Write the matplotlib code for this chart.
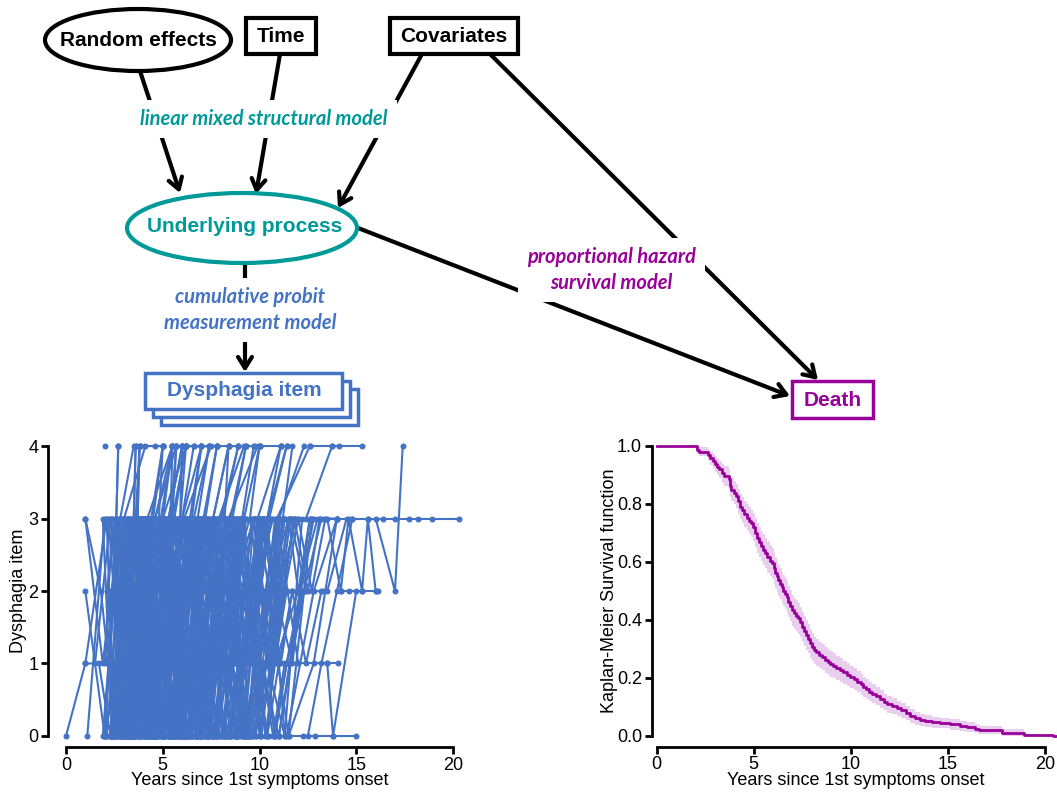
import numpy as np
import matplotlib
matplotlib.use("Agg")
import matplotlib.pyplot as plt
from matplotlib.patches import Ellipse, Rectangle

plt.rcParams['font.family'] = ['Liberation Sans', 'DejaVu Sans']

BLUE = "#4472C4"
TEAL = "#009999"
PURPLE = "#990099"
BAND = "#E9CEF0"

# individual dysphagia trajectories (years since onset, item score)
traj_early = [
    ([0.0, 1.0, 2.1, 3.0, 4.1], [0, 1, 3, 3, 4]),
    ([1.0, 1.9, 2.8, 3.5], [3, 1, 3, 4]),
    ([1.0, 2.0, 3.1, 4.0], [2, 0, 2, 3]),
    ([1.0, 1.5, 2.3, 3.2], [1, 1, 3, 3]),
    ([1.1, 2.0, 2.9], [0, 3, 3]),
    ([1.0, 1.8, 2.6, 3.4, 4.2], [3, 2, 0, 3, 3]),
    ([1.7, 2.3, 3.0, 3.8], [1, 0, 3, 3]),
    ([2.0], [4]),
    ([1.9, 2.2, 2.6, 2.7], [0, 1, 3, 4]),
    ([2.0, 2.5, 3.1, 3.6, 4.3], [0, 2, 0, 3, 3]),
    ([2.1, 2.8, 3.4, 4.0], [1, 3, 0, 2]),
    ([2.2, 2.9, 3.5, 3.6], [0, 0, 3, 4]),
    ([2.3, 3.0, 3.7, 3.8], [0, 2, 3, 4]),
    ([2.4, 3.2, 3.9, 4.5, 5.0], [1, 0, 3, 3, 4]),
    ([2.5, 3.1, 3.8, 4.4], [0, 3, 1, 3]),
    ([2.6, 3.4, 4.2, 5.0], [2, 0, 3, 0]),
    ([2.0, 2.7, 3.3, 4.1, 4.7], [0, 1, 2, 3, 3]),
    ([2.2, 3.0, 3.9, 4.6], [3, 0, 3, 2]),
    ([2.8, 3.5, 4.3, 5.2], [0, 2, 3, 3]),
    ([2.9, 3.6, 4.4, 5.1], [0, 3, 0, 3]),
    ([2.3, 2.8, 3.6, 4.2, 5.5], [1, 0, 2, 3, 4]),
    ([2.7, 3.3, 4.0, 4.8], [0, 1, 3, 1]),
    ([2.4, 3.5, 4.6, 5.7], [0, 0, 3, 4]),
    ([2.1, 2.6, 3.2, 4.1], [2, 3, 3, 3]),
    ([2.5, 2.9, 3.6, 4.4, 5.4], [3, 1, 3, 0, 3]),
    ([2.9, 3.7, 4.5, 5.3, 6.0], [1, 0, 2, 3, 4]),
    ([1.9, 2.4, 3.0, 3.5, 4.1], [3, 0, 2, 0, 3]),
    ([2.0, 2.4, 2.9, 3.4], [1, 3, 0, 3]),
    ([2.0, 2.6, 3.2, 3.7, 4.2], [0, 3, 1, 3, 0]),
    ([2.1, 2.5, 3.0, 3.6], [3, 0, 3, 1]),
    ([2.1, 2.7, 3.3, 3.9, 4.4], [0, 2, 0, 3, 2]),
    ([2.2, 2.6, 3.1, 3.7], [2, 0, 3, 3]),
    ([2.2, 2.8, 3.3, 3.8, 4.3], [1, 3, 0, 2, 3]),
    ([2.3, 2.7, 3.4, 4.0], [0, 3, 0, 3]),
    ([2.3, 2.9, 3.5, 4.1, 4.8], [3, 1, 3, 0, 3]),
    ([2.4, 2.8, 3.3, 3.9], [0, 2, 3, 0]),
    ([2.4, 3.0, 3.6, 4.2, 4.9], [2, 0, 3, 1, 3]),
    ([2.5, 3.0, 3.5, 4.0], [0, 3, 0, 2]),
    ([2.5, 3.2, 3.8, 4.5], [1, 0, 3, 3]),
    ([2.6, 3.1, 3.7, 4.3, 4.9], [3, 0, 2, 0, 3]),
    ([2.6, 3.3, 4.0, 4.6], [0, 1, 3, 0]),
    ([2.7, 3.2, 3.8, 4.4, 5.0], [0, 3, 0, 3, 1]),
    ([2.7, 3.4, 4.1, 4.7], [2, 0, 3, 2]),
    ([2.8, 3.3, 3.9, 4.6], [1, 3, 0, 3]),
    ([2.8, 3.5, 4.2, 4.8, 5.4], [0, 2, 0, 3, 3]),
    ([2.9, 3.4, 4.0, 4.7], [3, 0, 3, 0]),
    ([2.5, 3.0, 3.5, 4.0, 4.5], [0, 1, 2, 2, 3]),
    ([3.0, 3.5, 4.0, 4.6, 5.1], [1, 2, 1, 2, 3]),
    ([2.6, 2.7], [3, 4]),
    ([3.6, 3.8], [3, 4]),
]

traj_mid = [
    ([3.0, 3.6, 4.2, 4.9, 5.6], [0, 2, 0, 3, 3]),
    ([3.1, 3.8, 4.7, 5.5], [0, 3, 0, 3]),
    ([3.2, 4.0, 4.8, 5.5, 6.2], [1, 0, 3, 3, 4]),
    ([3.3, 4.1, 4.9, 5.9], [0, 2, 3, 2]),
    ([3.4, 4.2, 5.0, 5.8], [0, 0, 3, 0]),
    ([3.5, 4.3, 5.2, 6.0, 6.6], [2, 0, 2, 3, 4]),
    ([3.6, 4.4, 5.3, 6.1], [0, 3, 1, 3]),
    ([3.7, 4.5, 5.4, 6.3], [1, 0, 3, 3]),
    ([3.8, 4.6, 5.5, 6.5], [0, 2, 0, 3]),
    ([3.9, 4.8, 5.6, 6.4, 7.0], [0, 1, 3, 3, 4]),
    ([4.0, 4.7, 5.5, 6.4], [3, 0, 3, 2]),
    ([4.1, 4.9, 5.8, 6.7], [0, 3, 0, 3]),
    ([4.2, 5.0, 5.9, 6.8, 7.4], [0, 0, 2, 3, 4]),
    ([4.3, 5.1, 6.0, 6.9], [1, 3, 0, 3]),
    ([4.4, 5.2, 6.1, 7.0], [0, 2, 3, 0]),
    ([4.5, 5.4, 6.3, 7.1], [2, 0, 3, 3]),
    ([4.6, 5.5, 6.4, 7.2, 7.8], [0, 3, 1, 3, 4]),
    ([4.7, 5.6, 6.6, 7.5], [0, 0, 3, 1]),
    ([4.8, 5.7, 6.7, 7.6], [1, 3, 0, 3]),
    ([4.9, 5.8, 6.8, 7.8], [0, 1, 3, 3]),
    ([3.0, 3.9, 5.0, 6.2], [2, 3, 3, 4]),
    ([3.2, 3.5, 4.4, 5.0], [0, 3, 3, 4]),
    ([3.5, 3.6, 4.6], [3, 4, 4]),
    ([3.7, 3.8, 5.0], [3, 4, 4]),
    ([4.4, 4.9, 5.5], [3, 3, 4]),
    ([3.3, 4.0, 4.5, 5.1, 5.7], [1, 0, 3, 2, 4]),
    ([3.0, 3.5, 4.1, 4.8, 5.3], [0, 3, 1, 3, 0]),
    ([3.0, 3.7, 4.3, 5.0], [1, 0, 2, 3]),
    ([3.1, 3.6, 4.2, 4.9, 5.6], [2, 0, 3, 0, 3]),
    ([3.1, 3.8, 4.5, 5.2], [0, 3, 0, 2]),
    ([3.2, 3.7, 4.3, 5.0, 5.8], [3, 1, 3, 0, 3]),
    ([3.3, 3.9, 4.6, 5.3], [0, 2, 3, 1]),
    ([3.4, 4.0, 4.6, 5.2, 5.9], [1, 3, 0, 3, 2]),
    ([3.5, 4.1, 4.8, 5.5], [0, 0, 3, 0]),
    ([3.6, 4.2, 4.9, 5.6, 6.2], [3, 0, 2, 3, 0]),
    ([3.7, 4.3, 5.0, 5.8], [0, 3, 0, 3]),
    ([3.8, 4.4, 5.1, 5.9, 6.5], [2, 0, 3, 1, 3]),
    ([3.9, 4.5, 5.3, 6.0], [0, 3, 1, 3]),
    ([4.0, 4.6, 5.3, 6.1, 6.8], [1, 0, 3, 0, 3]),
    ([4.1, 4.7, 5.4, 6.2], [3, 0, 2, 0]),
    ([4.2, 4.8, 5.6, 6.3, 7.0], [0, 3, 0, 3, 2]),
    ([4.3, 4.9, 5.7, 6.5], [0, 1, 3, 0]),
    ([4.4, 5.0, 5.8, 6.6, 7.3], [2, 0, 3, 3, 0]),
    ([4.5, 5.1, 5.9, 6.7], [0, 3, 0, 3]),
    ([4.6, 5.3, 6.0, 6.9, 7.6], [1, 0, 2, 0, 3]),
    ([4.7, 5.4, 6.2, 7.0], [3, 0, 3, 1]),
    ([4.8, 5.5, 6.3, 7.1, 7.9], [0, 2, 0, 3, 3]),
    ([4.9, 5.6, 6.4, 7.3], [0, 3, 1, 3]),
    ([3.5, 4.0, 4.5, 5.1], [0, 1, 2, 3]),
    ([4.0, 4.5, 5.0, 5.6, 6.1], [1, 1, 2, 3, 2]),
    ([4.5, 5.0, 5.5, 6.1], [0, 1, 1, 2]),
    ([4.8, 5.4, 5.5], [2, 3, 4]),
    ([4.8, 5.0], [3, 4]),
    ([4.6, 5.5], [3, 4]),
    ([5.0, 5.8, 6.7, 7.6, 8.4], [0, 2, 0, 3, 4]),
    ([5.1, 6.0, 6.9, 7.8], [0, 3, 1, 3]),
    ([5.2, 6.1, 7.0, 8.0, 8.9], [1, 0, 3, 3, 4]),
    ([5.3, 6.2, 7.2, 8.1], [0, 2, 3, 0]),
    ([5.4, 6.3, 7.3, 8.2], [2, 0, 3, 3]),
    ([5.5, 6.4, 7.4, 8.4], [0, 3, 0, 3]),
    ([5.6, 6.5, 7.5, 8.5, 9.3], [0, 1, 3, 3, 4]),
    ([5.7, 6.6, 7.6, 8.6], [1, 3, 0, 2]),
    ([5.8, 6.7, 7.7, 8.8], [0, 0, 3, 1]),
    ([5.9, 6.8, 7.9, 9.0], [0, 2, 0, 3]),
    ([6.0, 6.9, 8.0, 9.1, 9.7], [2, 0, 3, 3, 4]),
    ([6.1, 7.1, 8.1, 9.2], [0, 3, 1, 3]),
    ([6.2, 7.2, 8.3, 9.3], [0, 1, 3, 0]),
    ([6.3, 7.3, 8.4, 9.5, 10.0], [1, 0, 2, 3, 4]),
    ([6.4, 7.4, 8.5, 9.6], [0, 3, 0, 3]),
    ([6.5, 7.5, 8.6, 9.8], [0, 2, 3, 2]),
    ([6.6, 7.6, 8.8, 9.9], [3, 0, 3, 3]),
    ([6.7, 7.8, 8.9, 10.1], [0, 0, 3, 1]),
    ([6.8, 7.9, 9.0, 10.2], [1, 3, 0, 3]),
    ([6.9, 8.0, 9.2, 10.4, 11.1], [0, 1, 3, 3, 4]),
    ([5.0, 5.7, 6.5, 7.4, 8.1], [2, 0, 3, 0, 3]),
    ([5.1, 5.8, 6.6, 7.5], [0, 1, 3, 2]),
    ([5.2, 5.9, 6.8, 7.7, 8.5], [1, 3, 0, 3, 0]),
    ([5.3, 6.0, 6.9, 7.8], [0, 0, 3, 0]),
    ([5.4, 6.1, 7.0, 7.9, 8.7], [3, 0, 2, 3, 1]),
    ([5.5, 6.3, 7.1, 8.0], [0, 3, 0, 3]),
    ([5.6, 6.4, 7.3, 8.2, 9.0], [0, 2, 3, 0, 3]),
    ([5.7, 6.5, 7.4, 8.3], [2, 0, 3, 1]),
    ([5.8, 6.6, 7.5, 8.5, 9.3], [0, 3, 0, 3, 2]),
    ([5.9, 6.7, 7.6, 8.6], [1, 0, 3, 3]),
    ([6.0, 6.8, 7.8, 8.7, 9.5], [0, 2, 0, 3, 0]),
    ([6.2, 7.0, 7.9, 8.9], [3, 0, 2, 0]),
    ([6.3, 7.1, 8.1, 9.0, 9.8], [0, 3, 1, 3, 3]),
    ([6.4, 7.3, 8.2, 9.2], [2, 0, 3, 0]),
    ([6.6, 7.4, 8.4, 9.4, 10.2], [0, 1, 3, 0, 3]),
    ([6.7, 7.6, 8.5, 9.5], [0, 3, 0, 2]),
    ([6.9, 7.7, 8.7, 9.7, 10.5], [1, 0, 3, 3, 1]),
    ([5.0, 5.5, 6.1, 6.6, 7.2], [0, 1, 2, 2, 3]),
    ([5.2, 5.8, 6.3, 6.9], [0, 1, 1, 2]),
    ([5.4, 5.9, 6.5, 7.0, 7.6], [1, 2, 1, 2, 3]),
    ([5.6, 6.2, 6.7, 7.3], [0, 0, 1, 2]),
    ([5.8, 6.3, 6.9, 7.5, 8.0], [1, 2, 3, 2, 3]),
    ([6.0, 6.5, 7.1, 7.7], [0, 1, 0, 1]),
    ([6.2, 6.8, 7.3, 7.9, 8.5], [2, 3, 2, 3, 3]),
    ([6.4, 7.0, 7.6, 8.2], [0, 1, 2, 1]),
    ([6.6, 7.2, 7.8, 8.3, 8.9], [1, 1, 2, 3, 3]),
    ([6.8, 7.4, 8.0, 8.6], [0, 1, 1, 2]),
    ([5.1, 5.6, 6.2, 6.8], [0, 2, 3, 2]),
    ([5.3, 5.9, 6.4, 7.0, 7.5], [1, 0, 1, 2, 3]),
    ([5.5, 6.0, 6.6, 7.1], [2, 3, 3, 2]),
    ([5.7, 6.3, 6.8, 7.4, 7.9], [0, 1, 2, 1, 2]),
    ([5.9, 6.4, 7.0, 7.6], [1, 2, 3, 3]),
    ([6.1, 6.7, 7.2, 7.8, 8.4], [0, 0, 1, 2, 2]),
    ([6.3, 6.9, 7.5, 8.1], [1, 2, 1, 2]),
    ([6.5, 7.1, 7.7, 8.3, 8.8], [2, 3, 2, 2, 3]),
    ([6.7, 7.3, 7.9, 8.5], [0, 1, 2, 3]),
    ([6.9, 7.5, 8.1, 8.7, 9.3], [1, 1, 2, 1, 2]),
    ([5.0, 5.5, 6.0, 7.0], [3, 4, 4, 4]),
    ([5.5, 5.7, 6.2, 6.6, 7.0], [3, 4, 4, 4, 4]),
    ([5.9, 6.2, 7.4, 7.8], [3, 4, 4, 4]),
    ([5.2, 5.9, 6.0], [1, 3, 4]),
    ([6.5, 7.0, 7.8], [3, 4, 4]),
    ([6.1, 7.5, 8.9], [3, 4, 4]),
    ([5.3, 6.0], [3, 4]),
    ([5.6, 6.2], [3, 4]),
    ([6.0, 7.0], [3, 4]),
    ([6.6, 7.4], [3, 4]),
]

traj_late = [
    ([7.0, 8.0, 9.1, 10.3], [0, 2, 0, 3]),
    ([7.2, 8.2, 9.3, 10.5, 11.4], [0, 0, 3, 3, 4]),
    ([7.4, 8.4, 9.5, 10.6], [1, 3, 1, 3]),
    ([7.6, 8.6, 9.7, 10.8], [0, 2, 3, 0]),
    ([7.8, 8.8, 9.9, 11.0], [2, 0, 3, 3]),
    ([8.0, 9.0, 10.1, 11.2, 11.7], [0, 1, 3, 3, 4]),
    ([8.2, 9.2, 10.3, 11.3], [0, 3, 0, 2]),
    ([8.4, 9.4, 10.5, 11.5], [1, 0, 2, 3]),
    ([8.6, 9.6, 10.7, 11.8], [0, 2, 1, 3]),
    ([8.8, 9.8, 10.9, 12.0], [0, 0, 3, 1]),
    ([9.0, 10.0, 11.0, 12.3], [2, 1, 3, 4]),
    ([9.3, 10.4, 11.5, 12.7], [0, 2, 0, 3]),
    ([9.6, 10.8, 12.0, 13.0], [0, 1, 2, 3]),
    ([10.0, 11.0, 12.1, 13.3], [1, 0, 2, 2]),
    ([10.5, 11.4, 12.8, 14.0], [0, 0, 2, 3]),
    ([7.0, 7.9, 8.9, 9.9], [0, 2, 0, 3]),
    ([7.2, 8.1, 9.0, 10.0, 10.8], [3, 0, 3, 1, 3]),
    ([7.4, 8.3, 9.2, 10.2], [0, 3, 0, 3]),
    ([7.6, 8.5, 9.4, 10.4, 11.2], [0, 1, 2, 0, 3]),
    ([7.9, 8.8, 9.7, 10.7], [2, 0, 3, 1]),
    ([8.2, 9.1, 10.0, 11.0], [0, 3, 0, 3]),
    ([8.5, 9.4, 10.4, 11.3], [1, 0, 3, 0]),
    ([8.8, 9.7, 10.7, 11.6], [0, 2, 3, 3]),
    ([9.1, 10.1, 11.0, 11.9], [3, 0, 2, 3]),
    ([9.4, 10.4, 11.3, 12.2], [0, 1, 0, 3]),
    ([9.8, 10.8, 11.7, 12.6], [0, 2, 1, 3]),
    ([7.0, 7.5, 8.1, 8.7, 9.3], [1, 2, 2, 3, 2]),
    ([7.2, 7.8, 8.4, 9.0], [0, 0, 1, 2]),
    ([7.4, 8.0, 8.6, 9.2, 9.8], [2, 1, 2, 3, 3]),
    ([7.6, 8.2, 8.8, 9.4], [0, 1, 2, 2]),
    ([7.8, 8.4, 9.0, 9.6, 10.2], [1, 2, 1, 2, 3]),
    ([8.0, 8.6, 9.2, 9.8], [0, 1, 0, 1]),
    ([8.2, 8.8, 9.4, 10.0, 10.6], [2, 3, 2, 3, 3]),
    ([8.4, 9.0, 9.6, 10.2], [0, 1, 2, 3]),
    ([8.6, 9.2, 9.8, 10.4, 11.0], [1, 2, 2, 1, 2]),
    ([8.8, 9.4, 10.0, 10.6], [0, 0, 1, 2]),
    ([9.0, 9.6, 10.2, 10.8, 11.3], [1, 2, 3, 2, 3]),
    ([9.2, 9.8, 10.4, 11.0], [0, 1, 1, 2]),
    ([9.4, 10.0, 10.6, 11.2, 11.6], [2, 1, 2, 3, 3]),
    ([9.6, 10.2, 10.8, 11.4], [0, 1, 0, 1]),
    ([9.8, 10.4, 11.0, 11.5, 12.0], [1, 2, 2, 3, 2]),
    ([10.0, 10.6, 11.2, 11.8], [0, 1, 2, 3]),
    ([10.2, 10.8, 11.4, 12.0, 12.6], [1, 1, 2, 2, 3]),
    ([10.4, 11.0, 11.6, 12.3], [0, 1, 1, 2]),
    ([10.6, 11.2, 11.8, 12.5, 13.1], [2, 2, 3, 2, 3]),
    ([10.8, 11.4, 12.1, 12.8], [0, 1, 2, 3]),
    ([11.0, 11.7, 12.4, 13.2], [1, 2, 1, 2]),
    ([11.3, 12.0, 12.7, 13.4], [2, 3, 2, 3]),
    ([7.1, 7.7, 8.3, 8.9], [2, 3, 3, 2]),
    ([7.3, 7.9, 8.5, 9.1, 9.7], [0, 1, 2, 2, 3]),
    ([7.5, 8.1, 8.7, 9.3], [1, 2, 1, 2]),
    ([7.7, 8.3, 8.9, 9.5, 10.1], [0, 0, 1, 2, 3]),
    ([7.9, 8.5, 9.1, 9.7], [2, 3, 2, 3]),
    ([8.1, 8.7, 9.3, 9.9, 10.5], [1, 2, 3, 3, 2]),
    ([8.3, 8.9, 9.5, 10.1], [0, 1, 1, 2]),
    ([8.5, 9.1, 9.7, 10.3, 10.9], [1, 2, 1, 2, 3]),
    ([8.7, 9.3, 9.9, 10.5], [0, 1, 2, 3]),
    ([8.9, 9.5, 10.1, 10.7, 11.3], [2, 2, 3, 2, 3]),
    ([9.1, 9.7, 10.3, 10.9], [0, 0, 1, 2]),
    ([9.3, 9.9, 10.5, 11.1, 11.7], [1, 2, 2, 3, 3]),
    ([9.5, 10.1, 10.7, 11.3], [0, 1, 0, 1]),
    ([9.7, 10.3, 10.9, 11.5], [2, 3, 2, 3]),
    ([9.9, 10.5, 11.1, 11.7], [1, 2, 1, 2]),
    ([7.0, 8.2, 8.4], [3, 3, 4]),
    ([7.9, 9.2, 9.7, 10.0], [3, 4, 4, 4]),
    ([8.4, 9.9, 11.1], [3, 4, 4]),
    ([7.1, 7.8], [3, 4]),
    ([7.6, 8.4], [3, 4]),
    ([8.1, 8.9], [3, 4]),
    ([8.6, 9.3], [3, 4]),
    ([9.2, 10.0], [3, 4]),
    ([9.9, 11.1], [3, 4]),
    ([10.4, 11.4], [3, 4]),
    ([11.0, 12.25, 12.87, 13.8, 15.0], [0, 0, 0, 0, 0]),
    ([9.5, 10.6, 11.6, 12.4], [3, 1, 3, 2]),
    ([11.4, 12.3, 13.2, 14.0], [1, 2, 3, 3]),
    ([12.0, 12.7, 13.4, 14.0, 14.8, 15.6, 16.4, 17.0, 17.7, 18.2, 18.9, 20.3],
     [3, 3, 3, 3, 3, 3, 3, 3, 3, 3, 3, 3]),
    ([12.6, 13.75, 14.1, 15.3], [4, 4, 4, 4]),
    ([11.0, 12.0, 13.5, 14.06], [1, 1, 1, 1]),
    ([13.5, 13.8, 15.0], [1, 0, 2]),
    ([13.5, 14.2, 14.6, 15.3, 15.6, 16.0, 16.1], [3, 2, 3, 2, 3, 2, 2]),
    ([14.2, 14.6, 15.3, 16.0], [2, 2, 2, 2]),
    ([16.0, 17.0, 17.4], [3, 2, 4]),
    ([12.5, 13.2, 14.0, 14.8], [0, 1, 2, 3]),
    ([11.5, 12.8, 14.0], [0, 1, 3]),
    ([11.0, 12.2, 13.5, 14.5], [0, 2, 2, 3]),
    ([10.9, 12.6], [3, 4]),
    ([12.4, 13.75], [3, 4]),
]

# Kaplan-Meier estimate (step function) with 95% CI half-widths
km_t = [0.00, 2.10, 2.20, 2.66, 2.75, 2.90, 3.00, 3.10, 3.22, 3.35,
        3.45, 3.72, 3.78, 3.85, 3.98, 4.10, 4.20, 4.29, 4.38, 4.50,
        4.64, 4.75, 4.88, 4.98, 5.08, 5.15, 5.25, 5.38, 5.49, 5.60,
        5.70, 5.82, 5.93, 6.02, 6.10, 6.18, 6.27, 6.36, 6.44, 6.52,
        6.62, 6.70, 6.78, 6.87, 6.96, 7.05, 7.18, 7.30, 7.40, 7.50,
        7.60, 7.70, 7.80, 7.90, 8.00, 8.10, 8.20, 8.35, 8.50, 8.65,
        8.80, 8.94, 9.10, 9.25, 9.45, 9.60, 9.80, 9.97, 10.15, 10.30,
        10.50, 10.65, 10.80, 10.95, 11.10, 11.30, 11.50, 11.70, 11.85, 12.10,
        12.40, 12.60, 12.85, 13.07, 13.30, 13.55, 13.80, 14.20, 14.60, 15.10,
        15.60, 16.00, 16.40, 16.60, 17.80, 18.90, 20.40, 20.62]
km_s = [1.000, 0.985, 0.979, 0.968, 0.958, 0.948, 0.938, 0.928, 0.918, 0.905,
        0.896, 0.885, 0.862, 0.848, 0.838, 0.826, 0.808, 0.790, 0.778, 0.765,
        0.752, 0.742, 0.732, 0.720, 0.700, 0.682, 0.668, 0.655, 0.642, 0.630,
        0.616, 0.604, 0.594, 0.578, 0.562, 0.550, 0.536, 0.524, 0.512, 0.500,
        0.490, 0.478, 0.462, 0.448, 0.432, 0.422, 0.414, 0.405, 0.392, 0.376,
        0.362, 0.348, 0.334, 0.318, 0.305, 0.295, 0.287, 0.278, 0.270, 0.262,
        0.255, 0.248, 0.241, 0.234, 0.226, 0.218, 0.210, 0.202, 0.194, 0.186,
        0.177, 0.168, 0.160, 0.152, 0.145, 0.136, 0.126, 0.116, 0.108, 0.102,
        0.095, 0.087, 0.078, 0.068, 0.060, 0.054, 0.051, 0.047, 0.043, 0.039,
        0.034, 0.031, 0.024, 0.020, 0.010, 0.004, 0.000, 0.000]
ci_half = [0.000, 0.013, 0.016, 0.020, 0.023, 0.025, 0.028, 0.030, 0.031, 0.033,
           0.034, 0.036, 0.038, 0.039, 0.040, 0.041, 0.042, 0.043, 0.044, 0.045,
           0.046, 0.047, 0.048, 0.049, 0.050, 0.051, 0.052, 0.052, 0.053, 0.053,
           0.054, 0.054, 0.054, 0.054, 0.054, 0.054, 0.054, 0.054, 0.054, 0.054,
           0.054, 0.054, 0.054, 0.054, 0.054, 0.053, 0.053, 0.053, 0.052, 0.052,
           0.051, 0.051, 0.050, 0.049, 0.048, 0.047, 0.047, 0.046, 0.045, 0.045,
           0.044, 0.044, 0.043, 0.042, 0.042, 0.041, 0.040, 0.039, 0.038, 0.037,
           0.036, 0.035, 0.034, 0.033, 0.032, 0.031, 0.030, 0.029, 0.028, 0.027,
           0.026, 0.025, 0.024, 0.023, 0.022, 0.021, 0.020, 0.019, 0.018, 0.018,
           0.017, 0.017, 0.016, 0.015, 0.013, 0.011]

fig = plt.figure(figsize=(10.57, 7.93), dpi=100)

# ---- diagram on a pixel-coordinate overlay
dax = fig.add_axes([0, 0, 1, 1])
dax.set_xlim(0, 1057)
dax.set_ylim(793, 0)
dax.axis("off")

node_font = dict(fontsize=15, fontweight="bold", ha="center", va="center")
lab_font = dict(family=["Lato", "DejaVu Sans"], fontsize=14.5, fontweight="bold",
                style="italic", ha="center", va="center", zorder=5,
                bbox=dict(boxstyle="square,pad=0.45", fc="white", ec="none"))


def arrow(x0, y0, x1, y1):
    dax.annotate("", xy=(x1, y1), xytext=(x0, y0),
                 arrowprops=dict(arrowstyle="->,head_length=0.8,head_width=0.5",
                                 lw=3, color="black", shrinkA=0, shrinkB=0))


arrow(140, 71, 180, 193)
arrow(280, 54, 256, 194)
arrow(422, 54, 338, 208)
arrow(490, 54, 818, 380)
arrow(358, 228, 790, 396)
arrow(245, 263, 245, 372)

dax.add_patch(Ellipse((138, 40), 186, 62, fill=False, lw=3, ec="black", zorder=3))
dax.text(138, 40, "Random effects", color="black", **node_font)
dax.add_patch(Rectangle((246, 18), 70, 36, fc="white", lw=3, ec="black", zorder=3))
dax.text(281, 36, "Time", color="black", zorder=4, **node_font)
dax.add_patch(Rectangle((390, 18), 128, 36, fc="white", lw=3, ec="black", zorder=3))
dax.text(454, 36, "Covariates", color="black", zorder=4, **node_font)

dax.add_patch(Ellipse((242, 228), 230, 70, fc="white", lw=3, ec=TEAL, zorder=3))
dax.text(245, 227, "Underlying process", color=TEAL, zorder=4, **node_font)

for off in (16, 8, 0):
    dax.add_patch(Rectangle((145 + off, 373 + off), 197, 36, fc="white", lw=2.5,
                            ec=BLUE, zorder=3))
dax.text(244, 391, "Dysphagia item", color=BLUE, zorder=4, **node_font)

dax.add_patch(Rectangle((792, 381), 81, 37, fc="white", lw=2.5, ec=PURPLE, zorder=3))
dax.text(833, 400, "Death", color=PURPLE, zorder=4, **node_font)

dax.text(264, 119, "linear mixed structural model", color=TEAL, **lab_font)
dax.text(250, 310, "cumulative probit\nmeasurement model", color=BLUE,
         linespacing=1.35, **lab_font)
dax.text(611, 270, "proportional hazard\nsurvival model", color=PURPLE,
         linespacing=1.35, **lab_font)


def style_axis(ax, left_out, bottom_out):
    for s in ("top", "right"):
        ax.spines[s].set_visible(False)
    ax.spines["left"].set_position(("outward", left_out))
    ax.spines["bottom"].set_position(("outward", bottom_out))
    ax.spines["left"].set_linewidth(2)
    ax.spines["bottom"].set_linewidth(2)
    ax.tick_params(width=2, length=5, labelsize=13, pad=2)
    ax.patch.set_alpha(0)


# ---- left: spaghetti plot
ax1 = fig.add_axes([60 / 1057, (793 - 742) / 793, 400 / 1057, 302 / 793])
for t, v in traj_early + traj_mid + traj_late:
    ax1.plot(t, v, color=BLUE, lw=1.5, marker="o", ms=3.3, clip_on=False)
ax1.set_xlim(-0.31, 20.36)
ax1.set_ylim(-0.083, 4.083)
style_axis(ax1, 8.6, 3.6)
ax1.spines["left"].set_bounds(0, 4)
ax1.spines["bottom"].set_bounds(0, 20)
ax1.set_xticks([0, 5, 10, 15, 20])
ax1.set_yticks([0, 1, 2, 3, 4])
ax1.set_xlabel("Years since 1st symptoms onset", fontsize=13, labelpad=-1)
ax1.set_ylabel("Dysphagia item", fontsize=13, labelpad=1)

# ---- right: Kaplan-Meier
ax2 = fig.add_axes([654 / 1057, (793 - 742) / 793, 403 / 1057, 302 / 793])
n = len(ci_half)
ci_t = km_t[:n]
lo = [max(0.0, s - h) for s, h in zip(km_s[:n], ci_half)]
hi = [min(1.0, s + h) for s, h in zip(km_s[:n], ci_half)]
ax2.fill_between(ci_t, lo, hi, step="post", color=BAND, lw=0)
ax2.step(km_t, km_s, where="post", color=PURPLE, lw=2.0, clip_on=False)
ax2.set_xlim(-0.14, 20.62)
ax2.set_ylim(-0.0217, 1.0197)
style_axis(ax2, 1.7, 3.4)
ax2.spines["left"].set_bounds(0, 1)
ax2.spines["bottom"].set_bounds(0, 20)
ax2.set_xticks([0, 5, 10, 15, 20])
ax2.set_yticks([0, 0.2, 0.4, 0.6, 0.8, 1.0])
ax2.set_yticklabels(["0.0", "0.2", "0.4", "0.6", "0.8", "1.0"])
ax2.set_xlabel("Years since 1st symptoms onset", fontsize=13, labelpad=-1)
ax2.set_ylabel("Kaplan-Meier Survival function", fontsize=13, labelpad=-1)

fig.savefig("out.png", dpi=100)
